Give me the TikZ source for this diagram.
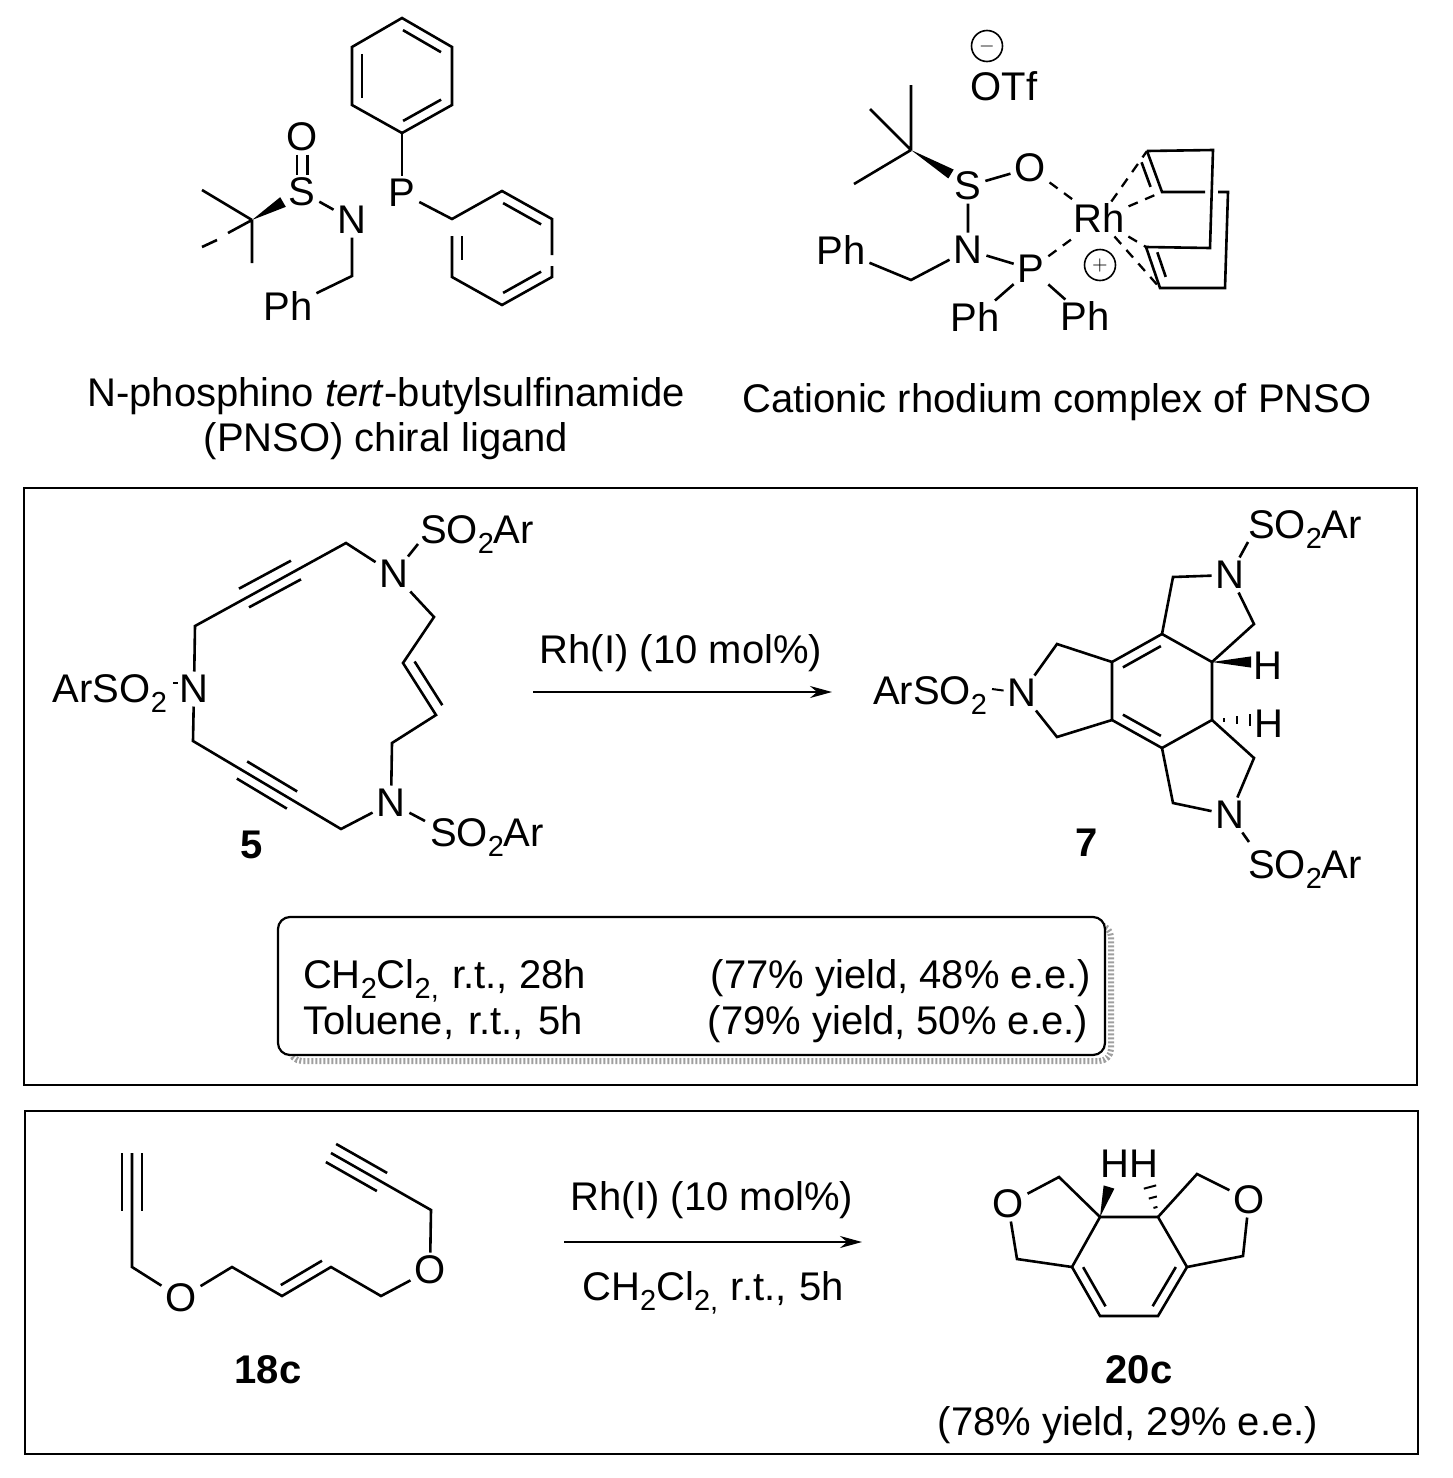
\documentclass[tikz,border=0pt]{standalone}
\usepackage{fontspec}
\setmainfont{Liberation Sans}
\usetikzlibrary{arrows.meta, calc}
\newcommand{\sbt}[1]{\raisebox{-.45ex}{\fontsize{14.5}{14.5}\selectfont #1}}
% line beside a bond: from, to, offset, part cut from each end
\newcommand{\sidebond}[4]{\draw[bond] ($(#1)!#4!(#2)!#3!90:(#2)$) -- ($(#2)!#4!(#1)!#3!-90:(#1)$);}
\newcommand{\wedgebond}[3]{\fill ($(#1)$) -- ($(#2)!#3!90:(#1)$) -- ($(#2)!#3!-90:(#1)$) -- cycle;}
\newcommand{\hashbond}[3]{\foreach \hpos in {.32,.65,1} \draw[line width=1pt] ($(#1)!\hpos!(#2)!\hpos*#3!90:(#1)$) -- ($(#1)!\hpos!(#2)!\hpos*#3!-90:(#1)$);}
\tikzset{
  bond/.style={line width=1.3pt},
  dbond/.style={line width=1.15pt, dash pattern=on 5pt off 4pt},
  atom/.style={font=\fontsize{20}{24}\selectfont, inner sep=2pt, outer sep=0pt, text height=13.5pt, text depth=0pt},
  txt/.style={font=\fontsize{20}{24}\selectfont, inner sep=0pt, outer sep=0pt, text height=13.5pt, text depth=0pt},
  lbl/.style={font=\fontsize{20}{24}\selectfont\bfseries, inner sep=0pt, text height=13.5pt, text depth=0pt},
  charge/.style={circle, draw, line width=.8pt, minimum size=15.5pt, inner sep=0pt},
  framebox/.style={draw, line width=1.1pt},
}
\begin{document}
\begin{tikzpicture}[x=.5pt, y=-.5pt, >={Stealth[length=11pt,width=6pt]}]
    \useasboundingbox (0,0) rectangle (1452,1478);

    % sulfinamide ligand
    \node[atom] (o1) at (302,137) {O};
    \node[atom] (s1) at (302,192) {S};
    \node[atom] (n1) at (352,220) {N};
    \node[atom] (p1) at (402,193) {P};
    \node[atom] (ph1) at (288,307) {Ph};
    \coordinate (cq1) at (252,220);
    \coordinate (wd1) at (283,202);
    \coordinate (me1) at (202,190);
    \coordinate (me2) at (228,233);
    \coordinate (me2a) at (217,240);
    \coordinate (me2b) at (202,247);
    \coordinate (me3) at (252,263);
    \coordinate (ch1) at (352,276);
    \draw[bond] (cq1) -- (me1) (cq1) -- (me2) (me2a) -- (me2b) (cq1) -- (me3);
    \wedgebond{cq1}{wd1}{2.8pt}
    \draw[bond] ([xshift=-2.6pt]o1.south) -- ([xshift=-2.6pt]s1.north);
    \draw[bond] ([xshift=2.6pt]o1.south) -- ([xshift=2.6pt]s1.north);
    \draw[bond] (s1) -- (n1) (n1) -- (ch1) -- (ph1);
    % P phenyl, top
    \coordinate (t1) at (402,133);
    \coordinate (t2) at (452,105);
    \coordinate (t3) at (452,47);
    \coordinate (t4) at (402,18);
    \coordinate (t5) at (352,47);
    \coordinate (t6) at (352,105);
    \draw[bond] (p1) -- (t1);
    \draw[bond] (t1) -- (t2) -- (t3) -- (t4) -- (t5) -- (t6) -- cycle;
    \sidebond{t1}{t2}{5pt}{.12}
    \sidebond{t3}{t4}{5pt}{.12}
    \sidebond{t5}{t6}{5pt}{.12}
    % P phenyl, right
    \coordinate (r1) at (452,219);
    \coordinate (r2) at (452,277);
    \coordinate (r3) at (502,305);
    \coordinate (r4) at (552,277);
    \coordinate (r5) at (552,219);
    \coordinate (r6) at (502,191);
    \coordinate (rg1) at (452,236);
    \coordinate (rg2) at (552,266);
    \coordinate (rg3) at (552,255);
    \draw[bond] (p1) -- (r1) -- (r6) -- (r5) -- (rg3) (rg2) -- (r4) -- (r3) -- (r2) -- (rg1);
    \sidebond{r1}{r2}{5pt}{.3}
    \sidebond{r3}{r4}{5pt}{.12}
    \sidebond{r5}{r6}{5pt}{.12}
    \node[txt] (cap1a) at (386,393) {N-phosphino \textit{tert}-butylsulfinamide};
    \node[txt] (cap1b) at (386,438) {(PNSO) chiral ligand};

    % rhodium complex
    \node[charge] (neg) at (987,46) {$-$};
    \node[atom] (otf) at (1004,87) {OTf};
    \node[atom] (s2) at (968,186) {S};
    \node[atom] (o2) at (1030,168) {O};
    \node[atom] (rh) at (1099,219) {Rh};
    \node[atom] (n2) at (968,250) {N};
    \node[atom] (p2) at (1031,269) {P};
    \node[atom] (ph2) at (841,251) {Ph};
    \node[atom] (ph3) at (975,318) {Ph};
    \node[atom] (ph4) at (1085,317) {Ph};
    \node[charge] (pos) at (1100,265) {$+$};
    \coordinate (cq2) at (911,150);
    \coordinate (wd2) at (951,174);
    \coordinate (me4) at (911,85);
    \coordinate (me5) at (870,109);
    \coordinate (me6) at (854,184);
    \coordinate (ch2) at (911,280);
    \draw[bond] (cq2) -- (me4) (cq2) -- (me5) (cq2) -- (me6);
    \wedgebond{cq2}{wd2}{2.6pt}
    \draw[bond] (s2) -- (o2) (s2) -- (n2) (n2) -- (ch2) -- (ph2) (n2) -- (p2) (p2) -- (ph3) (p2) -- (ph4);
    \draw[dbond] (o2) -- (rh);
    \draw[dbond] (p2) -- (rh);
    % cod
    \coordinate (ca) at (1147,151);
    \coordinate (cb) at (1213,150);
    \coordinate (cc) at (1210,248);
    \coordinate (cd) at (1146,247);
    \coordinate (ce) at (1162,192);
    \coordinate (cf) at (1160,288);
    \coordinate (cg) at (1205,192);
    \coordinate (ch) at (1218,192);
    \coordinate (ci) at (1228,192);
    \coordinate (cj) at (1225,288);
    \draw[bond] (ca) -- (cb) -- (cc) -- (cd) -- (cf) -- (cj) -- (ci) -- (ch);
    \draw[bond] (ca) -- (ce) -- (cg);
    \sidebond{ca}{ce}{-4.5pt}{.2}
    \sidebond{cd}{cf}{4.5pt}{.2}
    \draw[dbond] (rh) -- (ca);
    \draw[dbond] (rh) -- (ce);
    \draw[dbond] (rh) -- (cd);
    \draw[dbond] (rh) -- (cf);
    \node[txt] (cap2) at (1057,399) {Cationic rhodium complex of PNSO};

    % frames
    \node[framebox, minimum width=696.5pt, minimum height=298.5pt] (box1) at (720.5,786.5) {};
    \node[framebox, minimum width=696.5pt, minimum height=171.5pt] (box2) at (721.5,1282.5) {};

    % triyne-ene 5
    \node[atom] (n3) at (394,574) {N};
    \node[atom] (n4) at (194,689) {N};
    \node[atom] (n5) at (391,803) {N};
    \node[txt, anchor=west] (sa1) at (420,530) {SO\sbt{2}Ar};
    \node[txt, anchor=west] (sa2) at (53,689) {ArSO\sbt{2}};
    \node[txt, anchor=west] (sa3) at (430,833) {SO\sbt{2}Ar};
    \node[lbl] (lab5) at (252,845) {5};
    \coordinate (u1) at (346,543);
    \coordinate (u2) at (195,626);
    \coordinate (ua) at (296,570);
    \coordinate (ub) at (244,598);
    \coordinate (v1) at (193,741);
    \coordinate (v2) at (341,829);
    \coordinate (va) at (242,770);
    \coordinate (vb) at (292,800);
    \coordinate (w1) at (434,617);
    \coordinate (w2) at (403,663);
    \coordinate (w3) at (436,715);
    \coordinate (w4) at (392,743);
    \coordinate (sb1) at (418,544);
    \coordinate (sb2a) at (173,683);
    \coordinate (sb2b) at (178,683);
    \coordinate (sb3) at (425,821);
    \draw[bond] (n3) -- (u1) -- (u2) -- (n4) -- (v1) -- (v2) -- (n5);
    \draw[bond] (n3) -- (w1) -- (w2) -- (w3) -- (w4) -- (n5);
    \draw[bond] (n3) -- (sb1) (n5) -- (sb3);
    \draw[line width=1pt] (sb2a) -- (sb2b);
    \sidebond{ua}{ub}{5.3pt}{0}
    \sidebond{ua}{ub}{-5.3pt}{0}
    \sidebond{va}{vb}{5pt}{0}
    \sidebond{va}{vb}{-5pt}{0}
    \sidebond{w2}{w3}{5.3pt}{.08}

    % reaction arrow
    \coordinate (ar1) at (533,692);
    \coordinate (ar2) at (832,692);
    \draw[->, line width=1pt] (ar1) -- (ar2);
    \node[txt] (cat1) at (681,650) {Rh(I) (10 mol\%)};

    % tetracycle 7
    \node[atom] (n6) at (1230,575) {N};
    \node[atom] (n7) at (1022,693) {N};
    \node[atom] (n8) at (1230,815) {N};
    \node[txt, anchor=west] (sa4) at (1248,525) {SO\sbt{2}Ar};
    \node[txt, anchor=west] (sa5) at (873,691) {ArSO\sbt{2}};
    \node[txt, anchor=west] (sa6) at (1248,865) {SO\sbt{2}Ar};
    \node[atom] (h1) at (1268,666) {H};
    \node[atom] (h2) at (1269,724) {H};
    \node[lbl] (lab7) at (1087,843) {7};
    \coordinate (a1) at (1162,634);
    \coordinate (a2) at (1112,662);
    \coordinate (a3) at (1112,720);
    \coordinate (a4) at (1162,748);
    \coordinate (a5) at (1212,720);
    \coordinate (a6) at (1212,662);
    \coordinate (b1) at (1173,577);
    \coordinate (b2) at (1254,624);
    \coordinate (b3) at (1254,758);
    \coordinate (b4) at (1173,803);
    \coordinate (b5) at (1057,644);
    \coordinate (b6) at (1057,737);
    \coordinate (sb4) at (1248,542);
    \coordinate (sb5) at (992,689);
    \coordinate (sb6) at (1249,842);
    \coordinate (wd3) at (1251,662);
    \coordinate (wd4) at (1250,720);
    \draw[bond] (a1) -- (a2) -- (a3) -- (a4) -- (a5) -- (a6) -- cycle;
    \sidebond{a1}{a2}{5pt}{.12}
    \sidebond{a3}{a4}{5pt}{.12}
    \draw[bond] (a1) -- (b1) -- (n6) -- (b2) -- (a6);
    \draw[bond] (a4) -- (b4) -- (n8) -- (b3) -- (a5);
    \draw[bond] (a2) -- (b5) -- (n7) -- (b6) -- (a3);
    \draw[bond] (n6) -- (sb4) (n8) -- (sb6);
    \draw[line width=1pt] (n7) -- (sb5);
    \wedgebond{a6}{wd3}{2.8pt}
    \hashbond{a5}{wd4}{3pt}

    % conditions
    \draw[gray!75, line width=3pt, rounded corners=6pt, dash pattern=on 1pt off 1pt] (290,925) rectangle (1111,1061);
    \node[draw, fill=white, line width=1.1pt, rounded corners=6pt, minimum width=413.5pt, minimum height=69pt] (cond) at (691.5,986) {};
    \node[txt, anchor=west] (c1a) at (303,975) {CH\sbt{2}Cl\sbt{2,}\hspace{1.2pt} r.t., 28h};
    \node[txt, anchor=east] (c1b) at (1091,975) {(77\% yield, 48\% e.e.)};
    \node[txt, anchor=west] (c2a) at (303,1021) {Toluene,\hspace{1.5pt} r.t.,\hspace{1.5pt} 5h};
    \node[txt, anchor=east] (c2b) at (1088,1021) {(79\% yield, 50\% e.e.)};

    % diyne 18c
    \node[atom] (o3) at (181,1298) {O};
    \node[atom] (o4) at (430,1270) {O};
    \node[lbl] (lab18) at (268,1370) {18c};
    \coordinate (d1) at (132,1153);
    \coordinate (d1a) at (132,1211);
    \coordinate (d2) at (132,1267);
    \coordinate (d3) at (232,1267);
    \coordinate (d4) at (282,1296);
    \coordinate (d5) at (331,1267);
    \coordinate (d6) at (381,1296);
    \coordinate (d7) at (431,1210);
    \coordinate (d8) at (382,1182);
    \coordinate (d9) at (331,1153);
    \draw[bond] (d1) -- (d2) -- (o3) -- (d3) -- (d4) -- (d5) -- (d6) -- (o4) -- (d7) -- (d9);
    \sidebond{d1}{d1a}{5pt}{0}
    \sidebond{d1}{d1a}{-5pt}{0}
    \sidebond{d8}{d9}{5.2pt}{0}
    \sidebond{d8}{d9}{-5.2pt}{0}
    \sidebond{d4}{d5}{5pt}{.08}

    \coordinate (ar3) at (564,1242);
    \coordinate (ar4) at (862,1242);
    \draw[->, line width=1pt] (ar3) -- (ar4);
    \node[txt] (cat2) at (712,1197) {Rh(I) (10 mol\%)};
    \node[txt] (cat3) at (713,1287) {CH\sbt{2}Cl\sbt{2,}\hspace{.8pt} r.t.,\hspace{.8pt} 5h};

    % tricycle 20c
    \node[atom] (o5) at (1008,1204) {O};
    \node[atom] (o6) at (1249,1200) {O};
    \node[atom] (hh) at (1129,1164) {HH};
    \node[lbl] (lab20) at (1139,1370) {20c};
    \node[txt] (yld) at (1128,1422) {(78\% yield, 29\% e.e.)};
    \coordinate (e1) at (1100,1217);
    \coordinate (e2) at (1158,1217);
    \coordinate (e3) at (1187,1267);
    \coordinate (e4) at (1158,1316);
    \coordinate (e5) at (1100,1316);
    \coordinate (e6) at (1072,1267);
    \coordinate (f1) at (1059,1177);
    \coordinate (f2) at (1017,1259);
    \coordinate (f3) at (1197,1174);
    \coordinate (f4) at (1243,1256);
    \coordinate (wd5) at (1109,1187);
    \coordinate (wd6) at (1150,1187);
    \draw[bond] (e1) -- (e6) -- (e5) -- (e4) -- (e3) -- (e2) -- cycle;
    \sidebond{e6}{e5}{4.8pt}{.1}
    \sidebond{e4}{e3}{4.8pt}{.1}
    \draw[bond] (e1) -- (f1) -- (o5) -- (f2) -- (e6);
    \draw[bond] (e2) -- (f3) -- (o6) -- (f4) -- (e3);
    \wedgebond{e1}{wd5}{2.8pt}
    \hashbond{e2}{wd6}{3.2pt}
\end{tikzpicture}
\end{document}
